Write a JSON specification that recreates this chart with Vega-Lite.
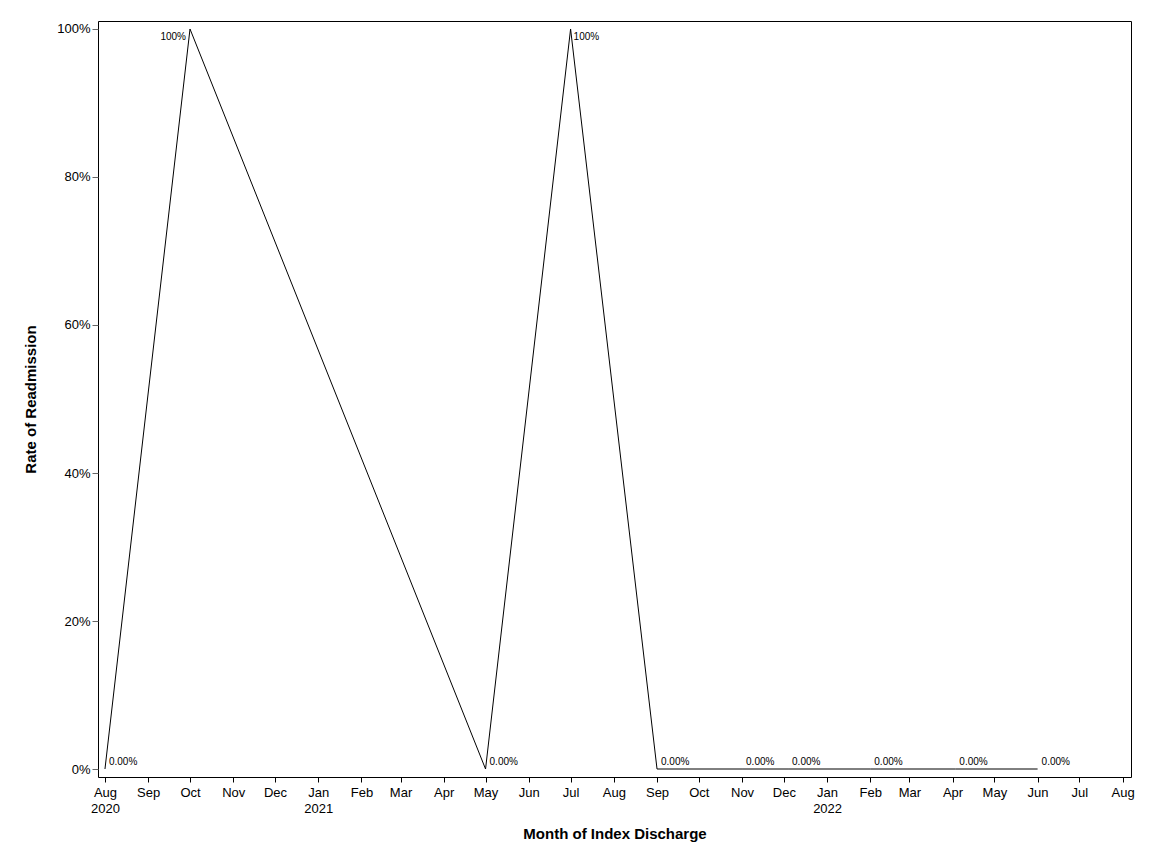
{
  "$schema": "https://vega.github.io/schema/vega-lite/v6.json",
  "autosize": "none",
  "width": 1033,
  "height": 756,
  "padding": {"left": 98, "top": 21, "right": 21, "bottom": 87},
  "background": "white",
  "config": {
    "font": "Liberation Sans",
    "view": {"stroke": "black", "strokeWidth": 1},
    "axis": {"grid": false, "domain": false, "tickColor": "black", "labelColor": "black", "titleColor": "black", "labelFontSize": 13, "titleFontSize": 15, "titleFontWeight": "bold", "labelFont": "Liberation Sans", "titleFont": "Liberation Sans"}
  },
  "data": {
    "values": [
      {"date": "2020-08-01T00:00:00", "rate": 0, "label": "0.00%", "pos": "zero"},
      {"date": "2020-10-01T00:00:00", "rate": 1, "label": "100%", "pos": "left"},
      {"date": "2021-05-01T00:00:00", "rate": 0, "label": "0.00%", "pos": "zero"},
      {"date": "2021-07-01T00:00:00", "rate": 1, "label": "100%", "pos": "right"},
      {"date": "2021-09-01T00:00:00", "rate": 0, "label": "0.00%", "pos": "zero"},
      {"date": "2021-11-01T00:00:00", "rate": 0, "label": "0.00%", "pos": "zero"},
      {"date": "2021-12-04T00:00:00", "rate": 0, "label": "0.00%", "pos": "zero"},
      {"date": "2022-02-01T00:00:00", "rate": 0, "label": "0.00%", "pos": "zero"},
      {"date": "2022-04-03T00:00:00", "rate": 0, "label": "0.00%", "pos": "zero"},
      {"date": "2022-06-01T00:00:00", "rate": 0, "label": "0.00%", "pos": "zero"}
    ]
  },
  "encoding": {
    "y": {
      "field": "rate", "type": "quantitative",
      "scale": {"domain": [-0.0108, 1.0108], "nice": false, "zero": false},
      "axis": {"title": "Rate of Readmission", "format": ".0%", "values": [0, 0.2, 0.4, 0.6, 0.8, 1.0], "tickSize": 6, "tickColor": "#666", "titlePadding": 18}
    }
  },
  "layer": [
    {
      "mark": {"type": "line", "color": "black", "strokeWidth": 1},
      "encoding": {
        "x": {
          "field": "date", "type": "temporal",
          "scale": {"domain": ["2020-07-27T00:00:00", "2022-08-07T00:00:00"]},
          "axis": {
            "orient": "bottom",
            "title": "Month of Index Discharge",
            "tickCount": {"interval": "month", "step": 1},
            "format": "%b",
            "labelOverlap": false,
            "labelPadding": 4,
            "tickSize": 5,
            "titlePadding": 27
          }
        }
      }
    },
    {
      "mark": {"type": "line", "opacity": 0},
      "encoding": {
        "x": {
          "field": "date", "type": "temporal",
          "axis": {
            "orient": "bottom",
            "title": null,
            "values": ["2020-08-01T00:00:00", "2021-01-01T00:00:00", "2022-01-01T00:00:00"],
            "format": "%Y",
            "ticks": false,
            "tickSize": 0,
            "labelOverlap": false,
            "labelPadding": 25
          }
        }
      }
    },
    {
      "transform": [{"filter": "datum.pos == 'zero'"}],
      "mark": {"type": "text", "align": "left", "baseline": "bottom", "dx": 4, "dy": -2, "fontSize": 10, "color": "black"},
      "encoding": {"x": {"field": "date", "type": "temporal", "axis": null}, "text": {"field": "label"}}
    },
    {
      "transform": [{"filter": "datum.pos == 'left'"}],
      "mark": {"type": "text", "align": "right", "baseline": "top", "dx": -4, "dy": 3, "fontSize": 10, "color": "black"},
      "encoding": {"x": {"field": "date", "type": "temporal", "axis": null}, "text": {"field": "label"}}
    },
    {
      "transform": [{"filter": "datum.pos == 'right'"}],
      "mark": {"type": "text", "align": "left", "baseline": "top", "dx": 3, "dy": 3, "fontSize": 10, "color": "black"},
      "encoding": {"x": {"field": "date", "type": "temporal", "axis": null}, "text": {"field": "label"}}
    }
  ],
  "resolve": {"axis": {"x": "independent"}}
}
